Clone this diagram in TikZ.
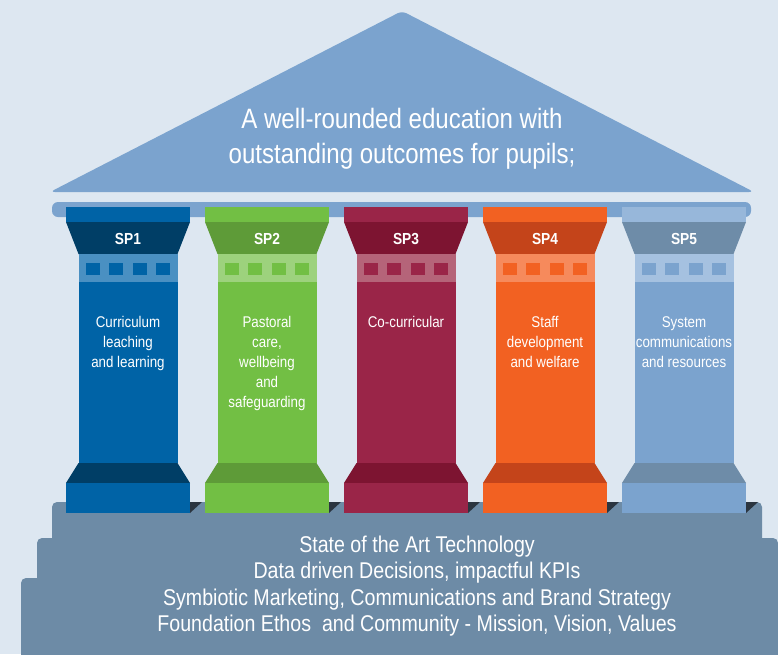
\documentclass[tikz,border=0pt]{standalone}
\usepackage{fontspec}
\setmainfont[FakeStretch=0.86]{Liberation Sans}
\usetikzlibrary{positioning}

\definecolor{bgcol}{HTML}{DDE7F1}
\definecolor{roofcol}{HTML}{7BA3CE}
\definecolor{stepcol}{HTML}{6D8BA6}
\definecolor{shadowcol}{HTML}{2B3540}
% SP1
\definecolor{mainsp1}{HTML}{0063A6}
\definecolor{topsp1}{HTML}{0063A6}
\definecolor{darksp1}{HTML}{003E66}
\definecolor{bandsp1}{HTML}{4A90C2}
\definecolor{sqsp1}{HTML}{0063A6}
% SP2
\definecolor{mainsp2}{HTML}{72BF44}
\definecolor{topsp2}{HTML}{72BF44}
\definecolor{darksp2}{HTML}{5E9B38}
\definecolor{bandsp2}{HTML}{9DD27D}
\definecolor{sqsp2}{HTML}{72BF44}
% SP3
\definecolor{mainsp3}{HTML}{9A2548}
\definecolor{topsp3}{HTML}{9A2548}
\definecolor{darksp3}{HTML}{7D1431}
\definecolor{bandsp3}{HTML}{B56479}
\definecolor{sqsp3}{HTML}{9A2548}
% SP4
\definecolor{mainsp4}{HTML}{F26122}
\definecolor{topsp4}{HTML}{F26122}
\definecolor{darksp4}{HTML}{C4441A}
\definecolor{bandsp4}{HTML}{F68A5C}
\definecolor{sqsp4}{HTML}{F26122}
% SP5
\definecolor{mainsp5}{HTML}{7BA3CE}
\definecolor{topsp5}{HTML}{97B7DA}
\definecolor{darksp5}{HTML}{6E8CA8}
\definecolor{bandsp5}{HTML}{A5C1E0}
\definecolor{sqsp5}{HTML}{7BA3CE}

\begin{document}
\begin{tikzpicture}[x=1pt, y=-1pt,
					stepblock/.style={fill=stepcol, rounded corners=5pt},
					spname/.style={text=white, inner sep=0pt, font=\bfseries\fontsize{16}{18}\selectfont},
					sptext/.style={text=white, inner sep=0pt, anchor=north, align=center, font=\fontsize{15.5}{20}\selectfont},
					bigtext/.style={text=white, inner sep=0pt, align=center}
				]
				\useasboundingbox (0,0) rectangle (778,654);
				\clip (0,0) rectangle (778,654);
				\fill[bgcol] (0,0) rectangle (778,654);
				% roof and beam
				\fill[roofcol, rounded corners=5pt] (50,192) -- (402,11) -- (754,192) -- cycle;
				\fill[roofcol, rounded corners=6pt] (52,202) rectangle (751,217);
				% steps
				\fill[stepblock] (21,578) rectangle (795,670);
				\fill[stepblock] (37,538) rectangle (778,670);
				\fill[stepblock] (52,502) rectangle (762,670);
				% pillars
				\foreach \i/\x/\txt in {1/66/{Curriculum\\leaching\\and learning},
						2/205/{Pastoral\\care,\\wellbeing\\and\\safeguarding},
						3/344/{Co-curricular},
						4/483/{Staff\\development\\and welfare},
						5/622/{System\\communications\\and resources}}{
					\fill[shadowcol] (\x+124,502) -- ++(12,0) -- (\x+124,513) -- cycle;
					\fill[topsp\i] (\x,207) rectangle ++(124,15);
					\fill[darksp\i] (\x,222) -- ++(124,0) -- ++(-12.5,32) -- ++(-99,0) -- cycle;
					\fill[bandsp\i] (\x+12.5,254) rectangle ++(99,28);
					\foreach \s in {20,43,67,90}
						\fill[sqsp\i] (\x+\s,263) rectangle ++(14,12);
					\fill[mainsp\i] (\x+12.5,282) rectangle ++(99,181);
					\fill[darksp\i] (\x+12.5,463) -- ++(99,0) -- ++(12.5,20) -- ++(-124,0) -- cycle;
					\fill[mainsp\i] (\x,483) rectangle ++(124,30);
					\node[spname] (sp\i name) at (\x+62,239) {SP\i};
					\node[sptext] (sp\i text) at (\x+62,316) {\txt};
				}
				% texts
				\node[bigtext, font=\fontsize{28}{35}\selectfont] (roofText) at (402,139) {A well-rounded education with\\outstanding outcomes for pupils;};
				\node[bigtext, font=\fontsize{22.8}{26.3}\selectfont] (baseText) at (417,586) {State of the Art Technology\\Data driven Decisions, impactful KPIs\\Symbiotic Marketing, Communications and Brand Strategy\\Foundation Ethos\ \ and Community - Mission, Vision, Values};
				\end{tikzpicture}
\end{document}
